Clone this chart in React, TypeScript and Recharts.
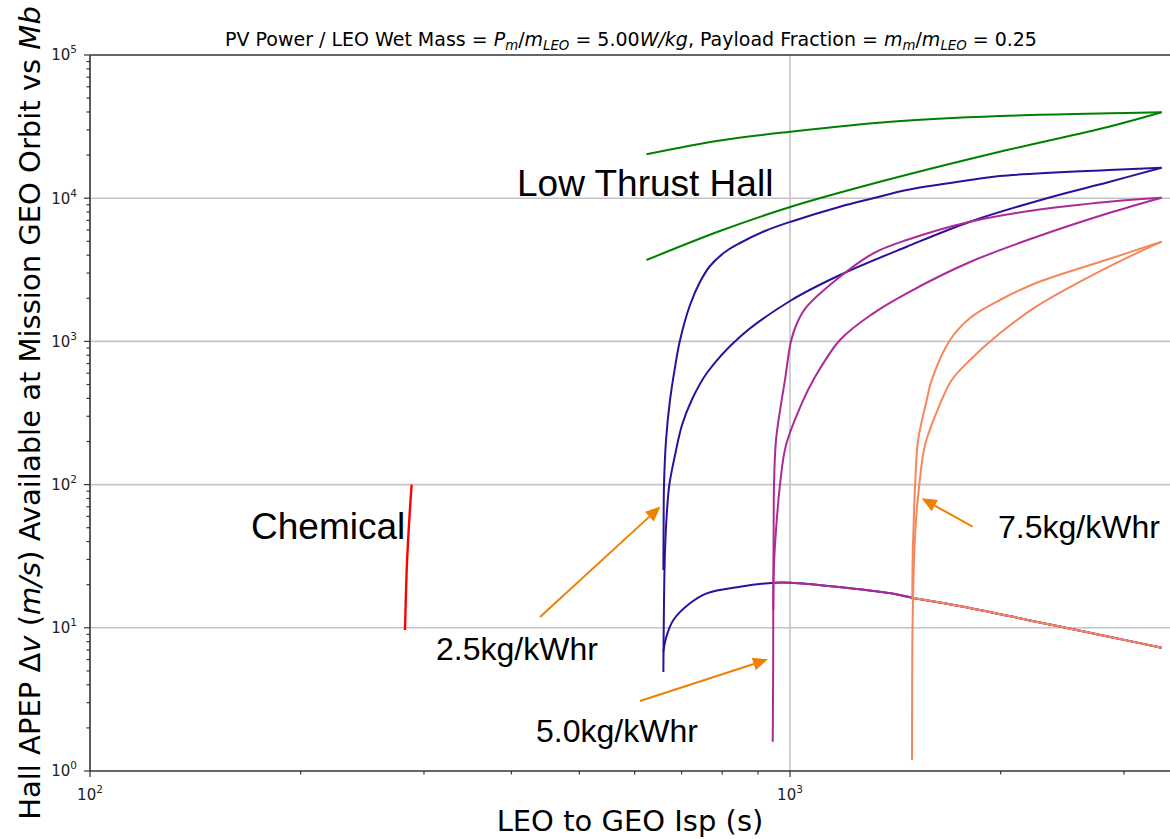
import React from "react";
import { LineChart, Line, XAxis, YAxis, CartesianGrid, ReferenceLine } from "recharts";

// [LEO to GEO Isp (s), Hall APEP delta-v (m/s)]
const chemical: [number, number][] = [
  [281.8, 9.65], [283.4, 25.3], [284.9, 43.3], [286.8, 74], [288.1, 100],
];

const greenUpper: [number, number][] = [
  [623.7, 20260], [794, 25290], [1002.6, 29130], [1393, 34210], [1994, 37500], [2855, 39160], [3395, 39800],
];
const greenLower: [number, number][] = [
  [623.7, 3700], [794, 5900], [1003, 8720], [1374, 13400], [1994, 21120], [2855, 31570], [3395, 39800],
];

// 2.5 kg/kWhr
const blueUpper: [number, number][] = [
  [659.3, 25.3], [659.8, 48.2], [660.7, 100], [665.1, 205], [673.9, 390], [685.1, 662], [696.5, 1023],
  [719.7, 1796], [743.6, 2598], [768.7, 3362], [807.5, 4210], [848.5, 4866], [921, 5901], [1002.6, 6853],
  [1178.7, 8725], [1314, 9985], [1468, 11410], [1808, 13400], [1994, 14290], [2855, 15740], [3395, 16330],
];
const blueLower: [number, number][] = [
  [659.3, 4.91], [659.8, 8.22], [660.7, 15.6], [662.9, 34.9], [667.3, 66.5], [672.4, 100], [685.1, 161],
  [701, 261], [723.8, 390], [760.3, 599], [848.5, 1078], [1002.6, 1930], [1178.7, 2909], [1468, 4584],
  [1808, 6853], [2328, 10000], [2855, 12980], [3395, 16330],
];
const blueHump: [number, number][] = [
  [659.3, 6.78], [665.1, 8.5], [681.4, 11.34], [719.7, 14.83], [760.3, 17.41], [848.5, 19.36],
  [950.4, 20.65], [1002.6, 20.65], [1164.5, 19.36], [1393, 17.41], [1494, 16.23], [1770, 14.04],
  [2247, 11.03], [2855, 8.67], [3395, 7.26],
];

// 5.0 kg/kWhr
const purpleUpper: [number, number][] = [
  [946.5, 13.3], [947.1, 33.3], [947.6, 48.2], [948.7, 100], [955, 205], [973, 390], [983.7, 538],
  [1003.3, 1006], [1025, 1366], [1056.5, 1747], [1178.7, 2830], [1315, 4123], [1468, 5107], [1808, 6853],
  [2247, 8272], [2855, 9454], [3395, 10080],
];
const purpleLower: [number, number][] = [
  [944.7, 1.6], [945.6, 3.13], [946.2, 7], [947.1, 21.6], [950.3, 33.3], [955, 48.2], [967.6, 100],
  [987, 189], [1044.7, 390], [1079.7, 538], [1178.7, 1023], [1315, 1571], [1468, 2168], [1808, 3585],
  [2247, 5358], [2855, 7880], [3395, 10080],
];
const purpleHump: [number, number][] = [
  [946.5, 20.6], [1002.6, 20.65], [1164.5, 19.36], [1393, 17.41], [1494, 16.23], [1770, 14.04],
  [2247, 11.03], [2855, 8.67], [3395, 7.26],
];

// 7.5 kg/kWhr
const orangeUpper: [number, number][] = [
  [1494.9, 15.6], [1497.4, 33.3], [1500.9, 48.2], [1509, 100], [1524, 205], [1567.9, 390],
  [1593.8, 538], [1692.9, 1023], [1808, 1457], [1995, 1946], [2247, 2557], [2856, 3762], [3395, 4969],
];
const orangeLower: [number, number][] = [
  [1493.9, 1.19], [1494.4, 3.13], [1495.5, 8.2], [1503.8, 29.8], [1513.6, 56.6], [1530.1, 100],
  [1559.2, 189], [1647.5, 390], [1702.2, 538], [1808, 742], [1994, 1139], [2247, 1747], [2855, 3324],
  [3395, 4969],
];
const orangeHump: [number, number][] = [
  [1494, 16.23], [1770, 14.04], [2247, 11.03], [2855, 8.67], [3395, 7.26],
];

const majorX = [100, 1000];
const majorY = [1, 10, 100, 1000, 10000, 100000];
const minorSteps = [2, 3, 4, 5, 6, 7, 8, 9];

const xTicks = majorX.flatMap((d) => [d, ...minorSteps.map((s) => s * d)]).filter((v) => v <= 3490);
const yTicks = majorY.flatMap((d) => (d === 100000 ? [d] : [d, ...minorSteps.map((s) => s * d)]));

const RED = "#ff0000";
const GREEN = "#008000";
const BLUE = "#2d0f9b";
const PURPLE = "#ad2a96";
const ORANGE = "#f5875a";
const ARROW = "#f08000";

const series = [
  { key: "chem", data: chemical, color: RED, width: 2.4 },
  { key: "gU", data: greenUpper, color: GREEN, width: 2 },
  { key: "gL", data: greenLower, color: GREEN, width: 2 },
  { key: "bU", data: blueUpper, color: BLUE, width: 2 },
  { key: "bL", data: blueLower, color: BLUE, width: 2 },
  { key: "bH", data: blueHump, color: BLUE, width: 2 },
  { key: "pU", data: purpleUpper, color: PURPLE, width: 2 },
  { key: "pL", data: purpleLower, color: PURPLE, width: 2 },
  { key: "pH", data: purpleHump, color: PURPLE, width: 2 },
  { key: "oU", data: orangeUpper, color: ORANGE, width: 2 },
  { key: "oL", data: orangeLower, color: ORANGE, width: 2 },
  { key: "oH", data: orangeHump, color: ORANGE, width: 2 },
];

const toPoints = (arr: [number, number][]) => arr.map(([isp, dv]) => ({ isp, dv }));

// centripetal catmull-rom, so the near vertical parts bend smoothly
const catmullRom = (context: any) => {
  let pts: number[][] = [];
  return {
    areaStart() {},
    areaEnd() {},
    lineStart() {
      pts = [];
    },
    point(x: number, y: number) {
      pts.push([+x, +y]);
    },
    lineEnd() {
      if (!pts.length) return;
      context.moveTo(pts[0][0], pts[0][1]);
      for (let i = 0; i < pts.length - 1; i++) {
        const p0 = pts[i - 1] || pts[i];
        const p1 = pts[i];
        const p2 = pts[i + 1];
        const p3 = pts[i + 2] || p2;
        const d01 = Math.hypot(p1[0] - p0[0], p1[1] - p0[1]);
        const d12 = Math.hypot(p2[0] - p1[0], p2[1] - p1[1]);
        const d23 = Math.hypot(p3[0] - p2[0], p3[1] - p2[1]);
        const l01a = Math.sqrt(d01), l12a = Math.sqrt(d12), l23a = Math.sqrt(d23);
        let c1 = p1;
        let c2 = p2;
        if (l01a > 1e-6) {
          const a = 2 * d01 + 3 * l01a * l12a + d12;
          const n = 3 * l01a * (l01a + l12a);
          c1 = [(p1[0] * a - p0[0] * d12 + p2[0] * d01) / n, (p1[1] * a - p0[1] * d12 + p2[1] * d01) / n];
        }
        if (l23a > 1e-6) {
          const b = 2 * d23 + 3 * l23a * l12a + d12;
          const m = 3 * l23a * (l23a + l12a);
          c2 = [(p2[0] * b + p1[0] * d23 - p3[0] * d12) / m, (p2[1] * b + p1[1] * d23 - p3[1] * d12) / m];
        }
        context.bezierCurveTo(c1[0], c1[1], c2[0], c2[1], p2[0], p2[1]);
      }
    },
  };
};

const isMajor = (v: number) => Math.abs(Math.log10(v) - Math.round(Math.log10(v))) < 1e-9;
const TICK = "#333";
const MPL = "DejaVu Sans, sans-serif";

const XTick = (props: any) => {
  const { x, y, payload } = props;
  const v = payload.value;
  const major = isMajor(v);
  return (
    <g>
      <line x1={x} y1={y} x2={x} y2={y + (major ? 6 : 3.5)} stroke={TICK} strokeWidth={1.2} />
      {major && (
        <text x={x} y={y + 29} textAnchor="middle" fontSize={15} fontFamily={MPL} fill="#222">
          10<tspan dy={-7} fontSize={10.5}>{Math.round(Math.log10(v))}</tspan>
        </text>
      )}
    </g>
  );
};

const YTick = (props: any) => {
  const { x, y, payload } = props;
  const v = payload.value;
  const major = isMajor(v);
  return (
    <g>
      <line x1={x} y1={y} x2={x - (major ? 6 : 3.5)} y2={y} stroke={TICK} strokeWidth={1.2} />
      {major && (
        <text x={x - 13} y={y + 5.4} textAnchor="end" fontSize={15} fontFamily={MPL} fill="#222">
          10<tspan dy={-7} fontSize={10.5}>{Math.round(Math.log10(v))}</tspan>
        </text>
      )}
    </g>
  );
};

type Seg = { t: string; it?: boolean; sub?: boolean };

const MathText = ({ segs, x, y, size, anchor, transform }: any) => {
  let prevSub = false;
  return (
    <text x={x} y={y} fontSize={size} textAnchor={anchor} transform={transform} fontFamily={MPL} fill="#000" style={{ whiteSpace: "pre" }}>
      {segs.map((s: Seg, i: number) => {
        const dy = s.sub && !prevSub ? size * 0.22 : !s.sub && prevSub ? -size * 0.22 : 0;
        prevSub = !!s.sub;
        return (
          <tspan key={i} dy={dy} fontStyle={s.it ? "italic" : "normal"} fontSize={s.sub ? size * 0.7 : size}>
            {s.t}
          </tspan>
        );
      })}
    </text>
  );
};

const titleSegs: Seg[] = [
  { t: "PV Power / LEO Wet Mass = " },
  { t: "P", it: true }, { t: "m", it: true, sub: true }, { t: "/" }, { t: "m", it: true }, { t: "LEO", it: true, sub: true },
  { t: " = 5.00" }, { t: "W/kg", it: true },
  { t: ", Payload Fraction = " },
  { t: "m", it: true }, { t: "m", it: true, sub: true }, { t: "/" }, { t: "m", it: true }, { t: "LEO", it: true, sub: true },
  { t: " = 0.25" },
];

const yLabelSegs: Seg[] = [
  { t: "Hall APEP Δ" }, { t: "v", it: true }, { t: " (" }, { t: "m/s", it: true },
  { t: ") Available at Mission GEO Orbit vs " }, { t: "Mb", it: true },
];

const Arrow = ({ x1, y1, x2, y2 }: { x1: number; y1: number; x2: number; y2: number }) => {
  const a = Math.atan2(y2 - y1, x2 - x1);
  const L = 15;
  const W = 6.5;
  const bx = x2 - L * Math.cos(a);
  const by = y2 - L * Math.sin(a);
  const px = -Math.sin(a) * W;
  const py = Math.cos(a) * W;
  return (
    <g>
      <line x1={x1} y1={y1} x2={bx} y2={by} stroke={ARROW} strokeWidth={2} />
      <polygon points={`${x2},${y2} ${bx + px},${by + py} ${bx - px},${by - py}`} fill={ARROW} />
    </g>
  );
};

const ARIAL = "Liberation Sans, Arial, sans-serif";

export default function App() {
  return (
    <div style={{ position: "absolute", left: 0, top: 0, width: 1170, height: 839, background: "#fff" }}>
      <LineChart width={1170} height={839} margin={{ top: 55, right: 0, bottom: 0, left: 0 }}>
        <CartesianGrid
          horizontalValues={[10, 100, 1000, 10000]}
          verticalValues={[1000]}
          stroke="#c4c4c4"
          strokeWidth={1.6}
        />
        <XAxis
          dataKey="isp"
          type="number"
          scale="log"
          domain={[100, 3490]}
          allowDataOverflow
          ticks={xTicks}
          interval={0}
          height={68}
          tickSize={0}
          tickMargin={0}
          tickLine={false}
          tick={<XTick />}
          axisLine={{ stroke: TICK, strokeWidth: 1.6 }}
        />
        <YAxis
          type="number"
          scale="log"
          domain={[1, 100000]}
          allowDataOverflow
          ticks={yTicks}
          interval={0}
          width={90}
          tickSize={0}
          tickMargin={0}
          tickLine={false}
          tick={<YTick />}
          axisLine={{ stroke: TICK, strokeWidth: 1.6 }}
        />
        <ReferenceLine y={100000} stroke={TICK} strokeWidth={1.6} />
        {series.map((s) => (
          <Line
            key={s.key}
            data={toPoints(s.data)}
            dataKey="dv"
            type={catmullRom as any}
            stroke={s.color}
            strokeWidth={s.width}
            dot={false}
            activeDot={false}
            isAnimationActive={false}
          />
        ))}
      </LineChart>
      <svg width={1170} height={839} style={{ position: "absolute", left: 0, top: 0, pointerEvents: "none" }}>
        <MathText segs={titleSegs} x={631} y={46} size={19} anchor="middle" />
        <MathText segs={yLabelSegs} x={40} y={413} size={29} anchor="middle" transform="rotate(-90 40 413)" />
        <text x={630} y={831} textAnchor="middle" fontSize={29} fontFamily={MPL} fill="#000">
          LEO to GEO Isp (s)
        </text>
        <text x={517} y={196} fontSize={37} fontFamily={ARIAL} fill="#000">Low Thrust Hall</text>
        <text x={251} y={539} fontSize={37} fontFamily={ARIAL} fill="#000">Chemical</text>
        <text x={436} y={660} fontSize={32} fontFamily={ARIAL} fill="#000">2.5kg/kWhr</text>
        <text x={536} y={742} fontSize={32} fontFamily={ARIAL} fill="#000">5.0kg/kWhr</text>
        <text x={998} y={538} fontSize={32} fontFamily={ARIAL} fill="#000">7.5kg/kWhr</text>
        <Arrow x1={540} y1={617} x2={660.5} y2={506.5} />
        <Arrow x1={640} y1={701} x2={768} y2={659.3} />
        <Arrow x1={972.6} y1={526.7} x2={921.7} y2={498.3} />
      </svg>
    </div>
  );
}
